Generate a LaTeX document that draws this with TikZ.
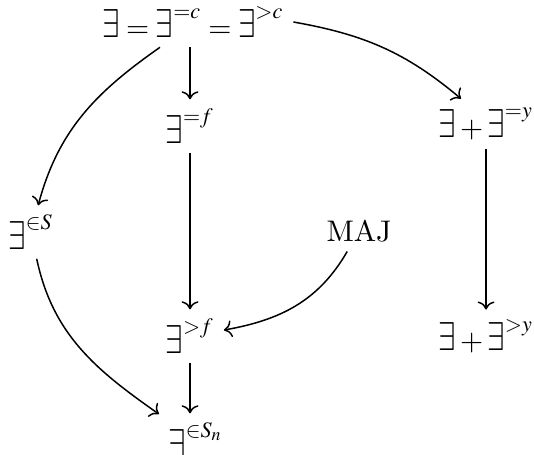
\documentclass[tikz,border=0pt]{standalone}
\usepackage{amsmath}
\usepackage{mathptmx}
\usepackage{graphicx}
\usepackage{tikz}
\usetikzlibrary{arrows.meta, positioning, calc}

\newcommand{\Ex}{\mathord{\scalebox{1.05}[1.35]{$\exists$}}}

\begin{document}
\begin{tikzpicture}[
        x=0.0118cm, y=-0.0118cm,
        cls/.style={inner sep=3pt},
        imp/.style={->, line width=0.5pt}
    ]
        \useasboundingbox (0,0) rectangle (534,454);

        \node[cls] (top) at (193, 22) {$\Ex = \Ex^{=c} = \Ex^{>c}$};

        \node[cls] (eqf) at (190, 126) {$\Ex^{=f}$};
        \node[cls] (eqy) at (486, 124) {$\Ex + \Ex^{=y}$};

        \node[cls] (inS) at (31, 232) {$\Ex^{\in S}$};
        \node[cls] (maj) at (359, 231) {MAJ};

        \node[cls] (gtf) at (190, 336) {$\Ex^{>f}$};
        \node[cls] (gty) at (486, 336) {$\Ex + \Ex^{>y}$};

        \node[cls] (inSn) at (196, 440) {$\Ex^{\in S_n}$};

        \draw[imp] (top.south -| eqf) -- (eqf);
        \draw[imp] ($(top.south)+(-33,0)$) to[out=215, in=75] (inS);
        \draw[imp] (top.east) to[out=-10, in=140] ($(eqy.north)+(-25,0)$);
        \draw[imp] (eqf) -- (gtf);
        \draw[imp] (eqy) -- (gty);
        \draw[imp] (maj) to[out=-120, in=10] (gtf);
        \draw[imp] (inS) to[out=-78, in=145] (inSn);
        \draw[imp] (gtf) -- (gtf |- inSn.north);
    \end{tikzpicture}
\end{document}
